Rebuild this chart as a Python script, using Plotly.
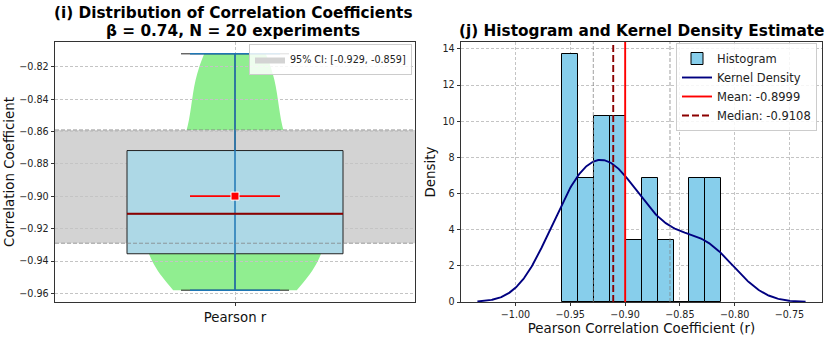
import numpy as np
import plotly.graph_objects as go

# ---------------- data ----------------
r_values = [-0.958, -0.957, -0.955, -0.952, -0.937, -0.935, -0.925, -0.920, -0.916, -0.912,
            -0.9096, -0.903, -0.895, -0.882, -0.875, -0.862, -0.840, -0.834, -0.8185, -0.812]
ci_bounds = [-0.929, -0.859]
beta = 0.74
n_experiments = 20
category_labels = ["Pearson r"]
n_bins = 10

# ---------------- statistics ----------------
r = np.array(r_values)
mean_r = r.mean()
median_r = np.median(r)
q1, q3 = np.percentile(r, [25, 75])
iqr = q3 - q1
lo_fence = r[r >= q1 - 1.5 * iqr].min()
hi_fence = r[r <= q3 + 1.5 * iqr].max()
bw = r.std(ddof=1) * len(r) ** (-1 / 5)  # Scott's rule


def kde(x):
    z = (x[:, None] - r[None, :]) / bw
    return np.exp(-0.5 * z ** 2).sum(axis=1) / (len(r) * bw * np.sqrt(2 * np.pi))


density, edges = np.histogram(r, bins=n_bins, density=True)
centers = (edges[:-1] + edges[1:]) / 2
widths = np.diff(edges)
kde_x = np.linspace(r.min() - 3 * bw, r.max() + 3 * bw, 400)
kde_y = kde(kde_x)

# ---------------- geometry / styles ----------------
W, H = 834, 343


def px(x):
    return x / W


def py(y):
    return 1 - y / H


FONT = "DejaVu Sans"
left_dom = [px(55), px(415)]
right_dom = [px(461), px(822)]
y_dom = [py(302), py(42)]
GRID = "#c4c4c4"
AX = "#333333"

span_l = r.max() - r.min()
left_range = [r.min() - 0.05 * span_l, r.max() + 0.05 * span_l]
span_k = kde_x[-1] - kde_x[0]
right_xrange = [kde_x[0] - 0.05 * span_k, kde_x[-1] + 0.05 * span_k]
right_ytop = max(density.max(), kde_y.max()) * 1.05

fig = go.Figure()

# ---- left panel, bottom layer (below grid): violin + CI band ----
fig.add_trace(go.Violin(
    y=r, x0=1, width=0.5, bandwidth=bw, spanmode="hard",
    fillcolor="lightgreen", line=dict(width=0, color="lightgreen"), opacity=1,
    points=False, box_visible=False, meanline_visible=False,
    showlegend=False, hoverinfo="skip", xaxis="x", yaxis="y"))
fig.add_trace(go.Scatter(
    x=[0.5, 1.5, 1.5, 0.5, 0.5],
    y=[ci_bounds[0], ci_bounds[0], ci_bounds[1], ci_bounds[1], ci_bounds[0]],
    fill="toself", fillcolor="lightgray", mode="lines", line=dict(width=0, color="lightgray"),
    name=f"95% CI: [{ci_bounds[0]:.3f}, {ci_bounds[1]:.3f}]",
    legend="legend", xaxis="x", yaxis="y", hoverinfo="skip"))

# ---- right panel: histogram + KDE ----
fig.add_trace(go.Bar(
    x=centers, y=density, width=widths, marker=dict(color="skyblue", line=dict(color="black", width=1)),
    name="Histogram", legend="legend2", xaxis="x2", yaxis="y2"))
fig.add_trace(go.Scatter(
    x=kde_x, y=kde_y, mode="lines", line=dict(color="navy", width=1.9),
    name="Kernel Density", legend="legend2", xaxis="x2", yaxis="y2"))
fig.add_trace(go.Scatter(
    x=[mean_r, mean_r], y=[0, right_ytop], mode="lines", line=dict(color="red", width=1.9),
    name=f"Mean: {mean_r:.4f}", legend="legend2", xaxis="x2", yaxis="y2"))
fig.add_trace(go.Scatter(
    x=[median_r, median_r], y=[0, right_ytop], mode="lines",
    line=dict(color="darkred", width=1.9, dash="7px,3px"),
    name=f"Median: {median_r:.4f}", legend="legend2", xaxis="x2", yaxis="y2"))

# ---- left panel, top layer (above grid): box + markers ----
fig.add_trace(go.Box(
    x=[1], q1=[q1], median=[median_r], q3=[q3], lowerfence=[lo_fence], upperfence=[hi_fence],
    width=0.6, whiskerwidth=0.5, fillcolor="lightblue", line=dict(color="#222222", width=1),
    boxpoints=False, showlegend=False, hoverinfo="skip", xaxis="x3", yaxis="y3"))
fig.add_trace(go.Scatter(
    x=[1, 1, None, 0.875, 1.125, None, 0.875, 1.125],
    y=[r.min(), r.max(), None, r.min(), r.min(), None, r.max(), r.max()],
    mode="lines", line=dict(color="#1f77b4", width=1.5), showlegend=False,
    hoverinfo="skip", xaxis="x3", yaxis="y3"))
fig.add_trace(go.Scatter(
    x=[0.7, 1.3], y=[median_r, median_r], mode="lines", line=dict(color="darkred", width=1.9),
    showlegend=False, hoverinfo="skip", xaxis="x3", yaxis="y3"))
fig.add_trace(go.Scatter(
    x=[0.875, 1.125], y=[mean_r, mean_r], mode="lines", line=dict(color="red", width=1.9),
    showlegend=False, hoverinfo="skip", xaxis="x3", yaxis="y3"))
fig.add_trace(go.Scatter(
    x=[1], y=[mean_r], mode="markers",
    marker=dict(symbol="square", size=8, color="red", line=dict(color="white", width=1)),
    showlegend=False, hoverinfo="skip", xaxis="x3", yaxis="y3"))

# ---- reference lines for CI ----
shapes = []
for b in ci_bounds:
    shapes.append(dict(type="line", xref="x3 domain", yref="y3", x0=0, x1=1, y0=b, y1=b,
                       line=dict(color="rgba(128,128,128,0.75)", width=1, dash="4px,2px"), layer="above"))
    shapes.append(dict(type="line", xref="x2", yref="y2 domain", x0=b, x1=b, y0=0, y1=1,
                       line=dict(color="rgba(128,128,128,0.75)", width=1, dash="4px,2px"), layer="above"))

tickfont = dict(family=FONT, size=9.6, color="#222")
titlefont = dict(family=FONT, size=13.4, color="#111")
common = dict(showline=True, linecolor=AX, linewidth=1, mirror=True, ticks="outside",
              ticklen=3.4, tickcolor=AX, tickfont=tickfont, zeroline=False, automargin=False,
              gridcolor=GRID, gridwidth=0.8, griddash="3px,2px")

fig.update_layout(
    width=W, height=H, margin=dict(l=0, r=0, t=0, b=0, autoexpand=False),
    paper_bgcolor="white", plot_bgcolor="rgba(0,0,0,0)",
    font=dict(family=FONT, color="#111"),
    bargap=0, showlegend=True, shapes=shapes,
    xaxis=dict(domain=left_dom, range=[0.5, 1.5], type="linear", visible=False, anchor="y",
               automargin=False),
    yaxis=dict(domain=y_dom, range=left_range, visible=False, anchor="x", automargin=False),
    xaxis3=dict(domain=left_dom, range=[0.5, 1.5], type="linear", anchor="y3",
                tickvals=[1], ticktext=category_labels, showgrid=True,
                **{**common, "tickfont": dict(family=FONT, size=13.3, color="#111")}),
    yaxis3=dict(domain=y_dom, range=left_range, anchor="x3", dtick=0.02, tick0=0,
                tickformat=".2f", showgrid=True,
                title=dict(text="Correlation Coefficient", font=titlefont, standoff=1), **common),
    xaxis2=dict(domain=right_dom, range=right_xrange, anchor="y2", dtick=0.05, tick0=0,
                tickformat=".2f", showgrid=True,
                title=dict(text="Pearson Correlation Coefficient (r)", font=titlefont, standoff=4),
                **common),
    yaxis2=dict(domain=y_dom, range=[0, right_ytop], anchor="x2", dtick=2, showgrid=True,
                title=dict(text="Density", font=titlefont, standoff=3), **common),
    legend=dict(x=px(412), xanchor="right", y=py(44), yanchor="top",
                font=dict(family=FONT, size=9.6, color="#222"),
                bgcolor="rgba(255,255,255,0.85)", bordercolor="#cccccc", borderwidth=1),
    legend2=dict(x=px(817), xanchor="right", y=py(43), yanchor="top",
                 font=dict(family=FONT, size=11.5, color="#222"),
                 bgcolor="rgba(255,255,255,0.85)", bordercolor="#cccccc", borderwidth=1),
    annotations=[
        dict(text="<b>(i) Distribution of Correlation Coefficients</b>", x=px(233), y=py(13.5),
             xref="paper", yref="paper", xanchor="center", yanchor="middle", showarrow=False,
             borderpad=0, font=dict(family=FONT, size=15.3, color="black")),
        dict(text=f"<b>β = {beta}, N = {n_experiments} experiments</b>", x=px(233), y=py(31.5),
             xref="paper", yref="paper", xanchor="center", yanchor="middle", showarrow=False,
             borderpad=0, font=dict(family=FONT, size=15.3, color="black")),
        dict(text="<b>(j) Histogram and Kernel Density Estimate</b>", x=px(641), y=py(31.5),
             xref="paper", yref="paper", xanchor="center", yanchor="middle", showarrow=False,
             borderpad=0, font=dict(family=FONT, size=15.3, color="black")),
    ],
)

# remove the default 8px page margin so the figure fills the window exactly
fig.write_html("out.html", config={"displayModeBar": False},
               post_script="document.body.style.margin='0';document.body.style.overflow='hidden';")
